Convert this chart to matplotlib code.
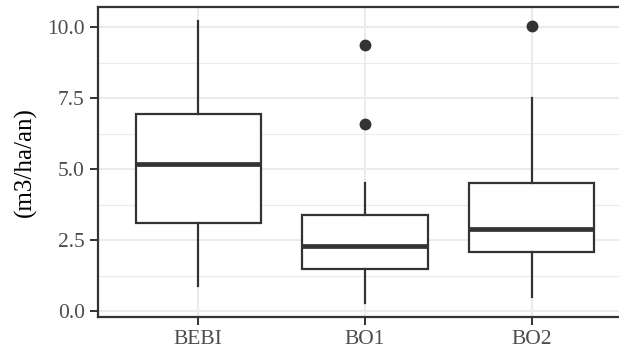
import matplotlib
matplotlib.use("Agg")
import matplotlib.pyplot as plt
from matplotlib.ticker import MultipleLocator

categories = ["BEBI", "BO1", "BO2"]
whislo = [0.88, 0.29, 0.50]
q1 = [3.09, 1.47, 2.09]
med = [5.20, 2.29, 2.88]
q3 = [6.93, 3.38, 4.50]
whishi = [10.22, 4.50, 7.51]
outliers = [[], [9.39, 6.61], [10.06]]
yticks = [0.0, 2.5, 5.0, 7.5, 10.0]
ytick_labels = ["0.0", "2.5", "5.0", "7.5", "10.0"]
ylabel = "(m3/ha/an)"

plt.rcParams["font.family"] = ["Liberation Serif", "DejaVu Serif"]

fig = plt.figure(figsize=(6.19, 3.52), dpi=100)
W, H = 619, 352
left, right, top, bottom = 98, 632, 7, 317
ax = fig.add_axes([left / W, 1 - bottom / H, (right - left) / W, (bottom - top) / H])

stats = []
for i, c in enumerate(categories):
    stats.append(dict(label=c, whislo=whislo[i], q1=q1[i], med=med[i],
                      q3=q3[i], whishi=whishi[i], fliers=outliers[i]))

dark = "#333333"
positions = list(range(1, len(categories) + 1))
ax.bxp(stats, positions=positions, widths=0.75, showcaps=False,
       patch_artist=True,
       boxprops=dict(facecolor="white", edgecolor=dark, linewidth=1.6),
       whiskerprops=dict(color=dark, linewidth=1.6),
       medianprops=dict(color=dark, linewidth=3.4, solid_capstyle="butt"),
       flierprops=dict(marker="o", markerfacecolor=dark, markeredgecolor=dark,
                       markersize=7.5, linestyle="none"),
       zorder=3)

ax.set_xlim(0.4, 3.6)
ax.set_ylim(-0.21, 10.72)
ax.set_yticks(yticks)
ax.set_yticklabels(ytick_labels)
ax.yaxis.set_minor_locator(MultipleLocator(1.25))
ax.set_xticks(positions)
ax.set_xticklabels(categories)

ax.set_axisbelow(True)
ax.grid(True, which="major", color="#EBEBEB", linewidth=1.5)
ax.grid(True, which="minor", axis="y", color="#EBEBEB", linewidth=0.8)

for s in ["left", "bottom", "top"]:
    ax.spines[s].set_color(dark)
    ax.spines[s].set_linewidth(1.6)
ax.spines["right"].set_visible(False)

ax.tick_params(axis="both", which="major", length=5.5, width=1.4, color=dark,
               labelcolor="#4D4D4D", labelsize=15.5, pad=4)
ax.tick_params(axis="y", which="minor", length=0)

ax.set_ylabel(ylabel, fontsize=18, color="black")
ax.yaxis.label.set_va("center")
ax.yaxis.set_label_coords((25 - left) / (right - left), 0.5)

fig.savefig("out.png", dpi=100)
